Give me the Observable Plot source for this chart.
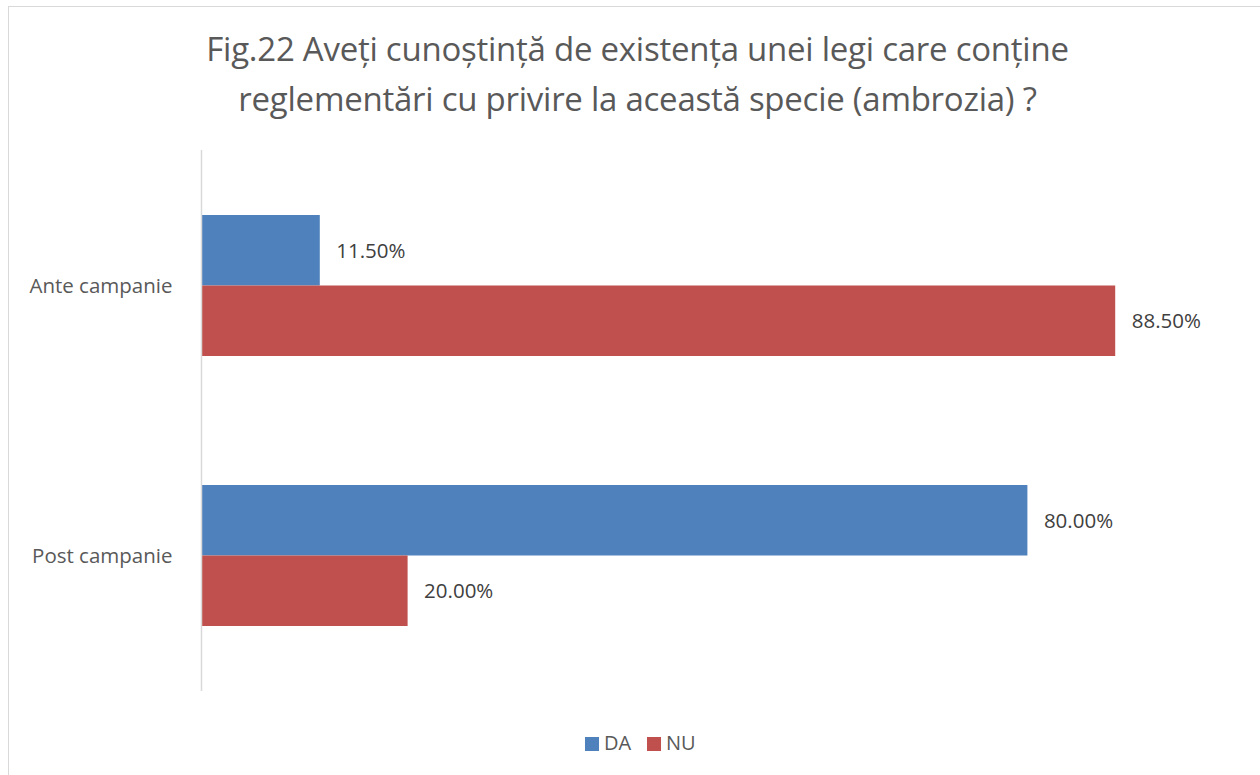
<!DOCTYPE html>
<html>
<head>
<meta charset="utf-8">
<script src="https://cdn.jsdelivr.net/npm/d3@7"></script>
<script src="https://cdn.jsdelivr.net/npm/@observablehq/plot@0.6"></script>
<style>
  html, body { margin: 0; padding: 0; background: #fff; overflow: hidden; }
  body { width: 1260px; height: 775px; position: relative; font-family: "Open Sans", sans-serif; }
  #frame { position: absolute; left: 8px; top: 6px; width: 1300px; height: 820px; border: 1px solid #d9d9d9; box-sizing: border-box; }
  #title { position: absolute; left: 0; top: 24px; width: 1275px; text-align: center; color: #595959; font-size: 33px; line-height: 50px; letter-spacing: -0.25px; }
  #chart { position: absolute; left: 0; top: 140px; }
  #legend { position: absolute; top: 731px; left: 0; width: 1260px; height: 24px; color: #595959; font-size: 20px; }
  .sw { position: absolute; width: 14px; height: 14px; top: 6px; }
  .lt { position: absolute; top: 0; line-height: 24px; }
</style>
</head>
<body>
<div id="frame"></div>
<div id="title">Fig.22 Aveți cunoștință de existența unei legi care conține<br>reglementări cu privire la această specie (ambrozia) ?</div>
<div id="chart"></div>
<div id="legend"></div>
<script>
const categories = ["Ante campanie", "Post campanie"];
const series = ["DA", "NU"];
const daValues = [0.115, 0.80];
const nuValues = [0.885, 0.20];
const colors = ["#4F81BD", "#C0504D"];

const data = [];
categories.forEach((c, i) => {
  data.push({category: c, series: "DA", value: daValues[i]});
  data.push({category: c, series: "NU", value: nuValues[i]});
});
const da = data.filter(d => d.series === "DA");
const nu = data.filter(d => d.series === "NU");
const fmt = d => (d.value * 100).toFixed(2) + "%";

const chart = Plot.plot({
  width: 1260,
  height: 560,
  marginLeft: 201,
  marginRight: 26,
  marginTop: 10,
  marginBottom: 9,
  style: {fontFamily: "'Open Sans', sans-serif", color: "#595959", background: "transparent"},
  x: {domain: [0, 1], axis: null},
  y: {domain: categories, paddingInner: 0.479, paddingOuter: 0.24, axis: null},
  color: {domain: series, range: colors},
  marks: [
    Plot.barX(da, {x: "value", y: "category", fill: "series", insetBottom: 70.5}),
    Plot.barX(nu, {x: "value", y: "category", fill: "series", insetTop: 70.5}),
    Plot.ruleX([0], {stroke: "#d9d9d9", strokeWidth: 1.5}),
    Plot.axisY({tickSize: 0, tickPadding: 29, fontSize: 20.5, fill: "#595959", label: null}),
    Plot.text(da, {x: "value", y: "category", text: fmt, dy: -35, dx: 16, textAnchor: "start", fill: "#404040", fontSize: 20.5}),
    Plot.text(nu, {x: "value", y: "category", text: fmt, dy: 35, dx: 16, textAnchor: "start", fill: "#404040", fontSize: 20.5})
  ]
});
document.getElementById("chart").appendChild(chart);

const legend = document.getElementById("legend");
const legendX = [{sw: 585, tx: 604}, {sw: 647, tx: 666}];
series.forEach((s, i) => {
  const sw = document.createElement("div");
  sw.className = "sw"; sw.style.left = legendX[i].sw + "px"; sw.style.background = colors[i];
  const t = document.createElement("div");
  t.className = "lt"; t.style.left = legendX[i].tx + "px"; t.textContent = s;
  legend.appendChild(sw); legend.appendChild(t);
});
</script>
</body>
</html>
